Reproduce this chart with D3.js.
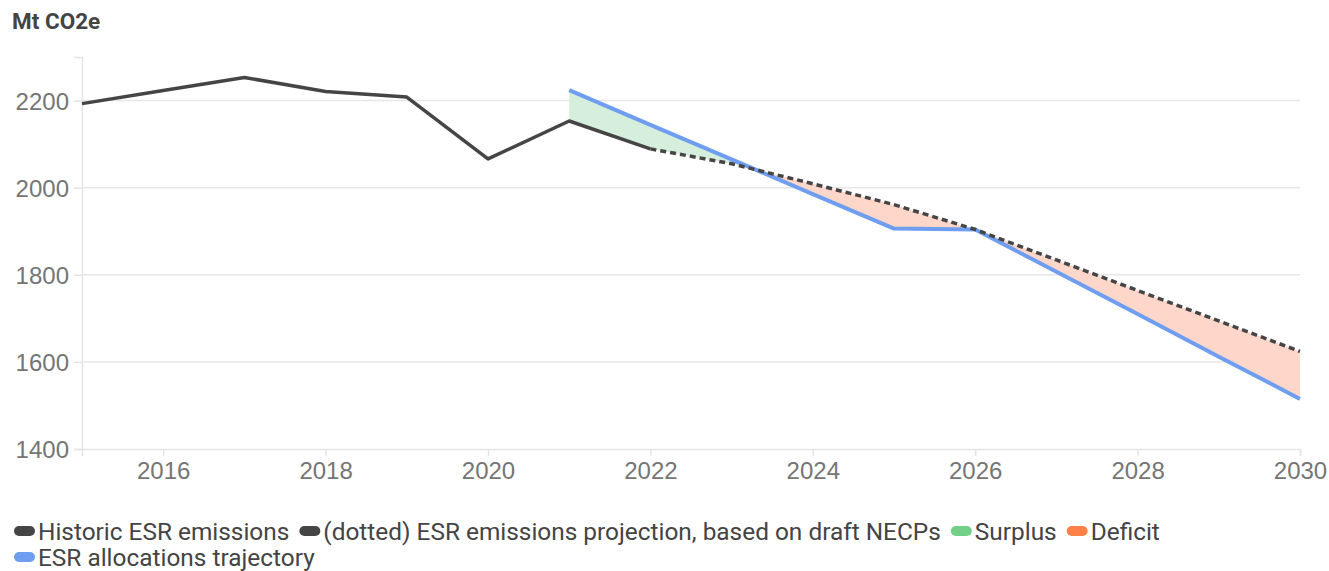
<!DOCTYPE html>
<html>
<head>
<meta charset="utf-8">
<script src="https://cdn.jsdelivr.net/npm/d3@7"></script>
<style>
  html, body { margin: 0; padding: 0; background: #fff; }
  svg { display: block; font-family: Roboto, "Noto Sans", sans-serif; }
</style>
</head>
<body>
<svg id="chart" width="1329" height="571"></svg>
<script>
// Emissions under the Effort Sharing Regulation (Mt CO2e)
const historicYears = [2015, 2016, 2017, 2018, 2019, 2020, 2021, 2022];
const historicValues = [2193, 2223, 2253, 2221, 2208, 2066, 2153, 2089];

const projectionYears = [2022, 2023, 2024, 2025, 2026, 2027, 2028, 2029, 2030];
const projectionValues = [2089, 2055, 2009, 1961, 1904, 1834, 1764, 1694, 1624];

const allocationYears = [2021, 2022, 2023, 2024, 2025, 2026, 2027, 2028, 2029, 2030];
const allocationValues = [2224, 2144, 2065, 1985, 1906, 1904, 1807, 1710, 1612, 1515];

const xTicks = [2016, 2018, 2020, 2022, 2024, 2026, 2028, 2030];
const yTicks = [1400, 1600, 1800, 2000, 2200];

const legendItems = [
  { label: "Historic ESR emissions", color: "#454545" },
  { label: "(dotted) ESR emissions projection, based on draft NECPs", color: "#454545" },
  { label: "Surplus", color: "#72cf87" },
  { label: "Deficit", color: "#ff8148" },
  { label: "ESR allocations trajectory", color: "#6f9ef0" }
];

const svg = d3.select("#chart");
const margin = { left: 82, right: 29, top: 57, bottom: 122 };
const W = 1329, H = 571;

const x = d3.scaleLinear().domain([2015, 2030]).range([margin.left, W - margin.right]);
const y = d3.scaleLinear().domain([1400, 2300]).range([H - margin.bottom, margin.top]);

// Gridlines
svg.append("g").selectAll("line").data(yTicks.filter(d => d !== 1400)).join("line")
  .attr("x1", x(2015)).attr("x2", x(2030))
  .attr("y1", d => y(d)).attr("y2", d => y(d))
  .attr("stroke", "#e8e8e8").attr("stroke-width", 1.5);

// Left axis
const yAxis = svg.append("g").attr("transform", `translate(${x(2015)},0)`)
  .call(d3.axisLeft(y).tickValues(yTicks).tickSize(8).tickPadding(5).tickFormat(d3.format("d")));
yAxis.select(".domain").attr("stroke", "#e4e4e4").attr("stroke-width", 1.5);
yAxis.selectAll(".tick line").attr("stroke", "#e4e4e4").attr("stroke-width", 1.5);
yAxis.selectAll("text").attr("fill", "#757575").attr("font-size", 24).attr("dy", "0.36em");

// Bottom axis
const xAxis = svg.append("g").attr("transform", `translate(0,${y(1400)})`)
  .call(d3.axisBottom(x).tickValues(xTicks).tickSize(7).tickPadding(6).tickFormat(d3.format("d")));
xAxis.select(".domain").attr("stroke", "#e4e4e4").attr("stroke-width", 1.5);
xAxis.selectAll(".tick line").attr("stroke", "#e4e4e4").attr("stroke-width", 1.5);
xAxis.selectAll("text").attr("fill", "#757575").attr("font-size", 24);

// Title
svg.append("text").attr("x", 12).attr("y", 29).text("Mt CO2e")
  .attr("font-size", 22.5).attr("font-weight", 700).attr("fill", "#444");

// Emissions path from 2021 onward (historic then projected), aligned with allocations
const emissionsByYear = new Map();
historicYears.forEach((yr, i) => emissionsByYear.set(yr, historicValues[i]));
projectionYears.forEach((yr, i) => emissionsByYear.set(yr, projectionValues[i]));
const pairs = allocationYears.map((yr, i) => ({ year: yr, alloc: allocationValues[i], emis: emissionsByYear.get(yr) }));

// Split the gap between the two lines into surplus / deficit segments at crossings
function buildSegments() {
  const segs = [];
  let cur = null;
  const push = (pt, sign) => {
    if (!cur || cur.sign !== sign) { cur = { sign, pts: [] }; segs.push(cur); }
    cur.pts.push(pt);
  };
  for (let i = 0; i < pairs.length; i++) {
    const p = pairs[i];
    const d = p.alloc - p.emis;
    if (i > 0) {
      const q = pairs[i - 1];
      const dq = q.alloc - q.emis;
      if (dq * d < 0) {
        const t = dq / (dq - d);
        const yr = q.year + t * (p.year - q.year);
        const v = q.alloc + t * (p.alloc - q.alloc);
        const cross = { year: yr, alloc: v, emis: v };
        push(cross, Math.sign(dq));
        cur = { sign: Math.sign(d), pts: [cross] }; segs.push(cur);
      }
    }
    push(p, d >= 0 ? (d === 0 && cur ? cur.sign : 1) : -1);
  }
  return segs;
}
const area = d3.area().x(d => x(d.year)).y0(d => y(d.emis)).y1(d => y(d.alloc));
svg.append("g").selectAll("path").data(buildSegments()).join("path")
  .attr("d", s => area(s.pts))
  .attr("fill", s => s.sign > 0 ? "#d5efdc" : "#fed6ca");

const line = d3.line().x(d => x(d[0])).y(d => y(d[1]));

// Allocations trajectory
svg.append("path")
  .attr("d", line(d3.zip(allocationYears, allocationValues)))
  .attr("fill", "none").attr("stroke", "#6f9ef0").attr("stroke-width", 4)
  .attr("stroke-linejoin", "round");

// Projection (dashed)
svg.append("path")
  .attr("d", line(d3.zip(projectionYears, projectionValues)))
  .attr("fill", "none").attr("stroke", "#454545").attr("stroke-width", 3.5)
  .attr("stroke-dasharray", "6,4");

// Historic emissions
svg.append("path")
  .attr("d", line(d3.zip(historicYears, historicValues)))
  .attr("fill", "none").attr("stroke", "#454545").attr("stroke-width", 3.5)
  .attr("stroke-linejoin", "round");

// Legend
const legend = svg.append("g").attr("font-size", 24.4).attr("fill", "#444");
const rows = [[0, 1, 2, 3], [4]];
rows.forEach((row, ri) => {
  let cx = 14;
  const cy = 531 + ri * 26;
  row.forEach(idx => {
    const it = legendItems[idx];
    legend.append("rect").attr("x", cx).attr("y", cy - 5).attr("width", 21).attr("height", 10)
      .attr("rx", 5).attr("fill", it.color);
    const t = legend.append("text").attr("x", cx + 24).attr("y", cy).attr("dy", "0.35em")
      .attr("fill", "#444").text(it.label);
    cx += 24 + t.node().getComputedTextLength() + 10;
  });
});
</script>
</body>
</html>
